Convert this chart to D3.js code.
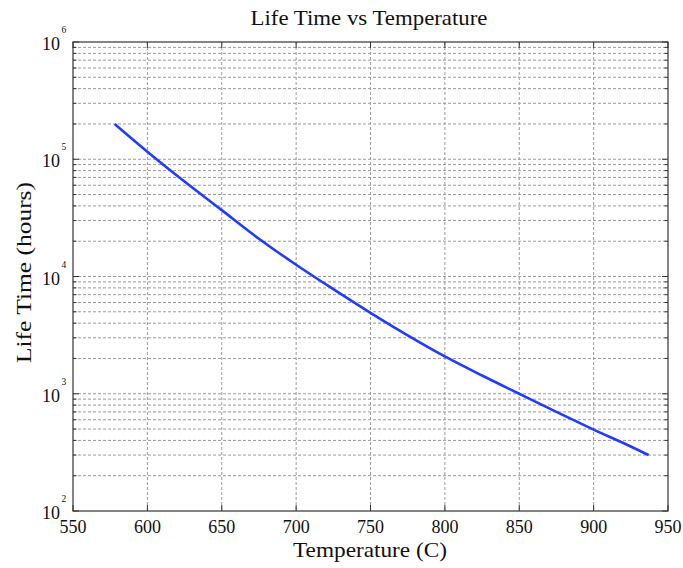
<!DOCTYPE html>
<html><head><meta charset="utf-8">
<script src="https://cdn.jsdelivr.net/npm/d3@7"></script>
<style>body{margin:0;background:#fff}svg{display:block}</style>
</head><body><svg id="c" width="683" height="568"></svg>
<script>
const temperature = [578, 600, 625, 650, 675, 700, 725, 750, 775, 800, 825, 850, 875, 900, 925, 937];
const lifeHours   = [200000, 116000, 64500, 36800, 21000, 12600, 7800, 4900, 3150, 2080, 1430, 1000, 700, 495, 355, 300];
const xTicks = [550, 600, 650, 700, 750, 800, 850, 900, 950];
const yDecades = [2, 3, 4, 5, 6];
const title = "Life Time vs Temperature";
const xLabel = "Temperature (C)";
const yLabel = "Life Time (hours)";

const svg = d3.select("#c");
const m = {l: 73, r: 668, t: 42, b: 511};
const x = d3.scaleLinear().domain([550, 950]).range([m.l, m.r]);
const y = d3.scaleLog().domain([1e2, 1e6]).range([m.b, m.t]);
const font = "'Liberation Serif','Times New Roman',serif";

const logVals = [];
for (let e = 2; e < 6; e++) for (let k = 1; k <= 9; k++) logVals.push(k * Math.pow(10, e));
logVals.push(1e6);

const g = svg.append("g");
g.selectAll("line.hg").data(logVals.filter(v => v > 1e2 && v < 1e6)).enter().append("line")
  .attr("x1", m.l).attr("x2", m.r).attr("y1", d => y(d)).attr("y2", d => y(d))
  .attr("stroke", "#9a9a9a").attr("stroke-width", 1).attr("stroke-dasharray", "3,2");
g.selectAll("line.vg").data(xTicks.filter(v => v > 550 && v < 950)).enter().append("line")
  .attr("x1", d => x(d)).attr("x2", d => x(d)).attr("y1", m.t).attr("y2", m.b)
  .attr("stroke", "#9a9a9a").attr("stroke-width", 1).attr("stroke-dasharray", "3,2");

svg.append("rect").attr("x", m.l).attr("y", m.t).attr("width", m.r - m.l).attr("height", m.b - m.t)
  .attr("fill", "none").attr("stroke", "#333").attr("stroke-width", 1.2);

const tk = svg.append("g").attr("stroke", "#333").attr("stroke-width", 1);
xTicks.forEach(v => {
  tk.append("line").attr("x1", x(v)).attr("x2", x(v)).attr("y1", m.b).attr("y2", m.b - 6);
  tk.append("line").attr("x1", x(v)).attr("x2", x(v)).attr("y1", m.t).attr("y2", m.t + 6);
});
logVals.forEach(v => {
  const major = Math.abs(Math.log10(v) - Math.round(Math.log10(v))) < 1e-9;
  const len = major ? 6 : 3.5;
  tk.append("line").attr("x1", m.l).attr("x2", m.l + len).attr("y1", y(v)).attr("y2", y(v));
  tk.append("line").attr("x1", m.r).attr("x2", m.r - len).attr("y1", y(v)).attr("y2", y(v));
});

svg.selectAll("text.xt").data(xTicks).enter().append("text")
  .attr("x", d => x(d)).attr("y", m.b + 22).attr("text-anchor", "middle")
  .attr("font-family", font).attr("font-size", 18).attr("fill", "#111").text(d => d);

yDecades.forEach(e => {
  svg.append("text").attr("font-family", font).attr("fill", "#111")
    .attr("x", 60).attr("y", y(Math.pow(10, e)) + 8).attr("text-anchor", "end").attr("font-size", 18).text("10");
  svg.append("text").attr("font-family", font).attr("fill", "#111")
    .attr("x", 61.5).attr("y", y(Math.pow(10, e)) - 9).attr("font-size", 9.5).text(e);
});

svg.append("text").attr("x", 369).attr("y", 25).attr("text-anchor", "middle")
  .attr("font-family", font).attr("font-size", 21).attr("fill", "#111")
  .attr("textLength", 237).attr("lengthAdjust", "spacingAndGlyphs").text(title);
svg.append("text").attr("x", 370).attr("y", 557).attr("text-anchor", "middle")
  .attr("font-family", font).attr("font-size", 21).attr("fill", "#111")
  .attr("textLength", 154).attr("lengthAdjust", "spacingAndGlyphs").text(xLabel);
svg.append("text").attr("transform", "translate(31,272.5) rotate(-90)").attr("text-anchor", "middle")
  .attr("font-family", font).attr("font-size", 22).attr("fill", "#111")
  .attr("textLength", 181).attr("lengthAdjust", "spacingAndGlyphs").text(yLabel);

const data = temperature.map((t, i) => [t, lifeHours[i]]);
svg.append("path").datum(data)
  .attr("d", d3.line().x(d => x(d[0])).y(d => y(d[1])).curve(d3.curveMonotoneX))
  .attr("fill", "none").attr("stroke", "#1f3cff").attr("stroke-width", 2.6);
</script></body></html>
